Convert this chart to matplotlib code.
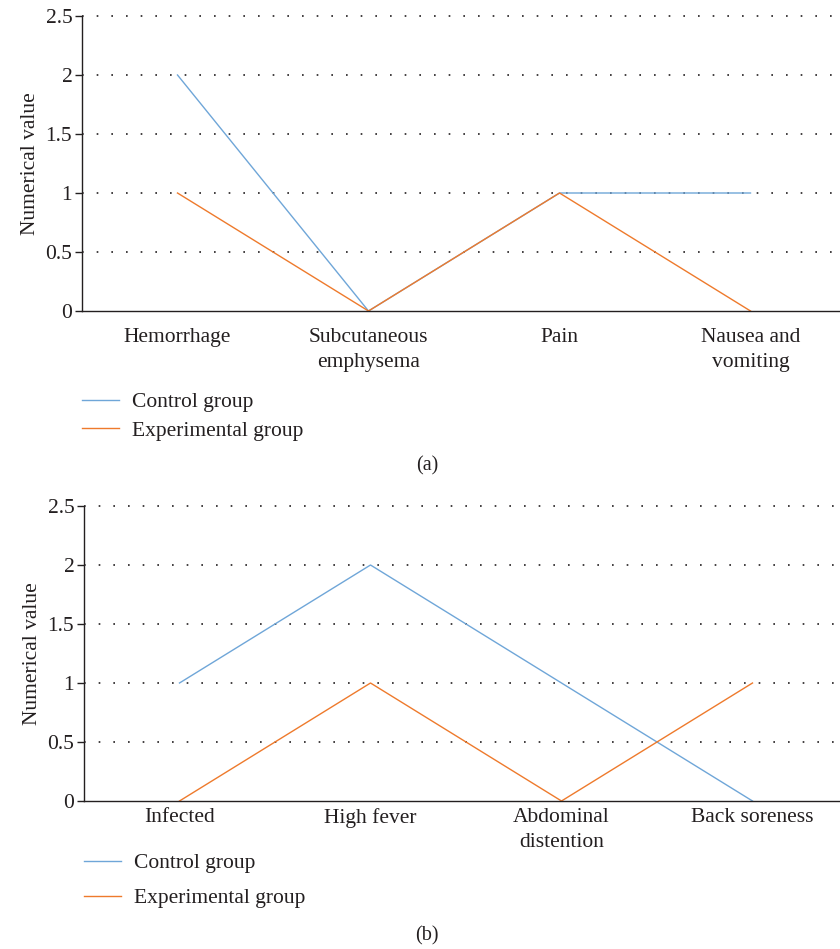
import matplotlib
matplotlib.use("Agg")
import matplotlib.pyplot as plt

plt.rcParams['font.family'] = ['Liberation Serif', 'DejaVu Serif']

cats_a = ["Hemorrhage", "Subcutaneous\nemphysema", "Pain", "Nausea and\nvomiting"]
control_a = [2, 0, 1, 1]
exper_a = [1, 0, 1, 0]

cats_b = ["Infected", "High fever", "Abdominal\ndistention", "Back soreness"]
control_b = [1, 2, 1, 0]
exper_b = [0, 1, 0, 1]

yticks = [0, 0.5, 1, 1.5, 2, 2.5]
yticklabels = ["0", "0.5", "1", "1.5", "2", "2.5"]

BLUE = '#6fa6d8'
ORANGE = '#ee7a2c'
FS = 15.5

W, H = 840, 949
fig = plt.figure(figsize=(W/100, H/100), dpi=100)

def make_ax(left_px, top_px, bottom_px, right_px, cats, ctrl, expt, xpad, leg_y, leg_x, leg_space, cap, cap_y):
    ax = fig.add_axes([left_px/W, 1-bottom_px/H, (right_px-left_px)/W, (bottom_px-top_px)/H])
    x = list(range(len(cats)))
    l1, = ax.plot(x, ctrl, color=BLUE, lw=1.0, label='Control group')
    l2, = ax.plot(x, expt, color=ORANGE, lw=1.0, label='Experimental group')
    ax.set_xlim(-0.5, len(cats)-0.5)
    ax.set_ylim(0, 2.5)
    ax.set_yticks(yticks)
    ax.set_yticklabels(yticklabels)
    ax.set_xticks(x)
    ax.set_xticklabels(cats, linespacing=1.45)
    ax.tick_params(axis='x', length=0, pad=xpad, labelsize=FS, colors='#231f20')
    ax.tick_params(axis='y', length=5, width=1.0, pad=2, labelsize=FS, colors='#231f20')
    for s in ['top', 'right']:
        ax.spines[s].set_visible(False)
    for s in ['left', 'bottom']:
        ax.spines[s].set_color('#231f20')
        ax.spines[s].set_linewidth(1.0)
    for yv in yticks[1:]:
        ax.axhline(yv, color='#231f20', lw=1.2, linestyle=(0, (1, 7.8)), zorder=0, clip_on=False)
    ax.set_ylabel('Numerical value', fontsize=FS, color='#231f20', labelpad=4)
    fig.legend(handles=[l1, l2], loc='upper left',
               bbox_to_anchor=(leg_x/W, 1-leg_y/H), frameon=False, fontsize=FS,
               handlelength=1.7, handletextpad=0.6, labelspacing=leg_space,
               borderpad=0, borderaxespad=0, labelcolor='#231f20')
    fig.text(427/W, 1-cap_y/H, cap, ha='center', va='center', fontsize=FS-1, color='#231f20')
    return ax

make_ax(82, 16, 311, 846, cats_a, control_a, exper_a, 12, 392, 82, 0.4, '(a)', 466)
make_ax(84, 506, 801, 848, cats_b, control_b, exper_b, 5, 853, 84, 0.7, '(b)', 936)

fig.savefig('out.png', dpi=100)
